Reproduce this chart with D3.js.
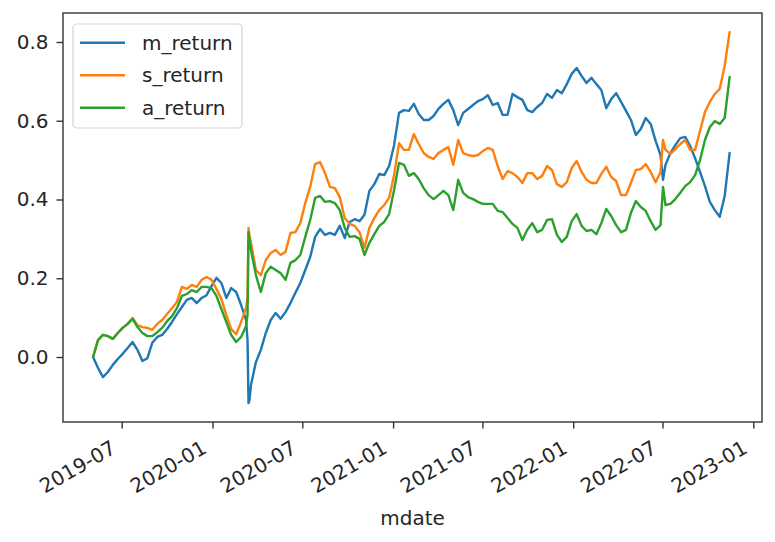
<!DOCTYPE html>
<html><head><meta charset="utf-8">
<script src="https://cdn.jsdelivr.net/npm/d3@7"></script>
<style>body{margin:0;background:#fff} text{font-family:"DejaVu Sans",sans-serif}</style>
</head><body><svg id="c" width="775" height="542"></svg>
<script>
const dates = ["2019-05-04","2019-05-14","2019-05-24","2019-06-03","2019-06-13","2019-06-23","2019-07-03","2019-07-13","2019-07-23","2019-08-02",
"2019-08-12","2019-08-22","2019-09-01","2019-09-11","2019-09-21","2019-10-01","2019-10-11","2019-10-21","2019-10-31","2019-11-10",
"2019-11-20","2019-11-30","2019-12-10","2019-12-20","2019-12-30","2020-01-09","2020-01-19","2020-01-29","2020-02-08","2020-02-18",
"2020-02-28","2020-03-09","2020-03-12","2020-03-14","2020-03-16",
"2020-03-19","2020-03-29","2020-04-08","2020-04-18","2020-04-28","2020-05-08","2020-05-18","2020-05-28","2020-06-07","2020-06-17",
"2020-06-27","2020-07-07","2020-07-17","2020-07-27","2020-08-06","2020-08-16","2020-08-26","2020-09-05","2020-09-15","2020-09-25",
"2020-10-05","2020-10-15","2020-10-25","2020-11-04","2020-11-14","2020-11-24","2020-12-04","2020-12-14","2020-12-24","2021-01-03",
"2021-01-13","2021-01-23","2021-02-02","2021-02-12","2021-02-22","2021-03-04","2021-03-14","2021-03-24","2021-04-03","2021-04-13",
"2021-04-23","2021-05-03","2021-05-13","2021-05-23","2021-06-02","2021-06-12","2021-06-22","2021-07-02","2021-07-12","2021-07-22",
"2021-08-01","2021-08-11","2021-08-21","2021-08-31","2021-09-10","2021-09-20","2021-09-30","2021-10-10","2021-10-20","2021-10-30",
"2021-11-09","2021-11-19","2021-11-29","2021-12-09","2021-12-19","2021-12-29","2022-01-08","2022-01-18","2022-01-28","2022-02-07",
"2022-02-17","2022-02-27","2022-03-09","2022-03-19","2022-03-29","2022-04-08","2022-04-18","2022-04-28","2022-05-08","2022-05-18",
"2022-05-28","2022-06-07","2022-06-17","2022-06-27","2022-07-02",
"2022-07-07","2022-07-17","2022-07-27","2022-08-06","2022-08-16","2022-08-26","2022-09-05","2022-09-15","2022-09-25","2022-10-05",
"2022-10-15","2022-10-25","2022-11-04","2022-11-14"];

const mReturn = [0.000,-0.028,-0.051,-0.038,-0.020,-0.005,0.008,0.023,0.038,0.018,
-0.010,-0.003,0.036,0.051,0.056,0.071,0.089,0.109,0.127,0.145,
0.150,0.137,0.150,0.157,0.180,0.201,0.188,0.150,0.175,0.165,
0.132,0.094,0.043,-0.117,-0.109,
-0.071,-0.013,0.018,0.061,0.094,0.112,0.097,0.114,0.137,0.163,
0.188,0.221,0.254,0.305,0.325,0.310,0.315,0.310,0.333,0.302,
0.343,0.350,0.345,0.361,0.422,0.439,0.465,0.462,0.485,0.538,
0.620,0.627,0.625,0.643,0.617,0.602,0.602,0.612,0.630,0.643,
0.653,0.627,0.589,0.620,0.630,0.640,0.650,0.655,0.665,0.640,
0.645,0.615,0.615,0.668,0.660,0.653,0.627,0.622,0.635,0.645,
0.668,0.658,0.678,0.670,0.693,0.719,0.734,0.714,0.696,0.709,
0.693,0.678,0.632,0.655,0.670,0.648,0.625,0.602,0.564,0.579,
0.607,0.592,0.549,0.513,0.450,
0.488,0.518,0.538,0.556,0.559,0.536,0.505,0.470,0.434,0.394,
0.373,0.356,0.409,0.518];

const sReturn = [0.000,0.043,0.056,0.053,0.046,0.061,0.074,0.084,0.099,0.081,
0.076,0.074,0.069,0.084,0.094,0.109,0.124,0.140,0.178,0.173,
0.183,0.178,0.196,0.203,0.196,0.173,0.147,0.107,0.071,0.058,
0.089,0.124,0.150,0.328,0.307,
0.290,0.221,0.208,0.246,0.264,0.272,0.259,0.267,0.315,0.317,
0.340,0.391,0.432,0.490,0.495,0.467,0.432,0.429,0.406,0.353,
0.338,0.333,0.317,0.277,0.328,0.353,0.373,0.386,0.404,0.462,
0.543,0.526,0.526,0.566,0.541,0.518,0.508,0.503,0.518,0.526,
0.533,0.488,0.551,0.518,0.513,0.510,0.513,0.523,0.531,0.526,
0.485,0.452,0.472,0.467,0.457,0.442,0.467,0.467,0.452,0.460,
0.485,0.475,0.439,0.432,0.444,0.480,0.498,0.470,0.450,0.442,
0.442,0.465,0.483,0.457,0.447,0.411,0.411,0.442,0.475,0.477,
0.490,0.470,0.444,0.470,0.551,
0.526,0.516,0.528,0.541,0.551,0.526,0.526,0.574,0.622,0.648,
0.668,0.681,0.739,0.825];

const aReturn = [0.000,0.043,0.056,0.053,0.046,0.061,0.074,0.084,0.097,0.076,
0.061,0.053,0.053,0.063,0.074,0.091,0.104,0.124,0.155,0.160,
0.170,0.165,0.178,0.178,0.175,0.155,0.122,0.089,0.056,0.038,
0.051,0.079,0.107,0.317,0.297,
0.272,0.208,0.165,0.213,0.229,0.221,0.213,0.196,0.239,0.246,
0.259,0.305,0.348,0.404,0.409,0.394,0.396,0.391,0.373,0.328,
0.305,0.307,0.300,0.259,0.290,0.312,0.333,0.343,0.363,0.424,
0.493,0.488,0.460,0.467,0.452,0.429,0.411,0.401,0.411,0.422,
0.411,0.373,0.450,0.417,0.406,0.401,0.394,0.389,0.389,0.389,
0.371,0.368,0.353,0.338,0.328,0.297,0.323,0.340,0.317,0.323,
0.348,0.350,0.310,0.292,0.305,0.345,0.363,0.333,0.320,0.323,
0.312,0.340,0.376,0.358,0.335,0.317,0.323,0.366,0.396,0.381,
0.371,0.345,0.323,0.335,0.432,
0.386,0.389,0.401,0.417,0.434,0.444,0.462,0.500,0.551,0.584,
0.599,0.592,0.607,0.711];

const seriesNames = ["m_return","s_return","a_return"];
const colors = ["#1f77b4","#ff7f0e","#2ca02c"];
const xTickLabels = ["2019-07","2020-01","2020-07","2021-01","2021-07","2022-01","2022-07","2023-01"];
const yTicks = [0.0,0.2,0.4,0.6,0.8];
const xLabel = "mdate";

const W = 775, H = 542, L = 63, R = 762, T = 13, B = 422;
const parse = d3.timeParse("%Y-%m-%d");
const parseM = d3.timeParse("%Y-%m");
const xTickDates = xTickLabels.map(parseM);

const x = d3.scaleTime()
  .domain([xTickDates[0], xTickDates[xTickDates.length - 1]])
  .range([121.7, 753.3]);
const y = d3.scaleLinear().domain([0, 0.8]).range([357, 42]);

const svg = d3.select("#c");
svg.append("rect").attr("width", W).attr("height", H).attr("fill", "#fff");

const parsedDates = dates.map(parse);
const line = d3.line().x((d, i) => x(parsedDates[i])).y(d => y(d));
[mReturn, sReturn, aReturn].forEach((s, i) => {
  svg.append("path").datum(s).attr("d", line)
    .attr("fill", "none").attr("stroke", colors[i])
    .attr("stroke-width", 2.4).attr("stroke-linejoin", "round").attr("stroke-linecap", "round");
});

svg.append("rect").attr("x", L).attr("y", T).attr("width", R - L).attr("height", B - T)
  .attr("fill", "none").attr("stroke", "#333").attr("stroke-width", 1.4);

const gy = svg.append("g").attr("transform", `translate(${L},0)`)
  .call(d3.axisLeft(y).tickValues(yTicks).tickFormat(d3.format(".1f")).tickSize(6.5).tickPadding(8));
gy.select(".domain").remove();
gy.selectAll(".tick line").attr("stroke", "#333").attr("stroke-width", 1.4);
gy.selectAll(".tick text").attr("font-size", 20).attr("fill", "#262626").attr("font-family", "DejaVu Sans");

const gx = svg.append("g").attr("transform", `translate(0,${B})`)
  .call(d3.axisBottom(x).tickValues(xTickDates).tickFormat(d3.timeFormat("%Y-%m")).tickSize(6.5));
gx.select(".domain").remove();
gx.selectAll(".tick line").attr("stroke", "#333").attr("stroke-width", 1.4);
gx.selectAll(".tick text")
  .attr("font-size", 20).attr("fill", "#262626").attr("font-family", "DejaVu Sans")
  .attr("y", 0).attr("dy", 0).attr("text-anchor", "end")
  .attr("transform", "translate(-5,30) rotate(-30)");

svg.append("text").attr("x", (L + R) / 2).attr("y", 525).attr("text-anchor", "middle")
  .attr("font-size", 20).attr("fill", "#262626").text(xLabel);

const lg = svg.append("g");
lg.append("rect").attr("x", 73).attr("y", 24).attr("width", 169).attr("height", 104).attr("rx", 4)
  .attr("fill", "#fff").attr("fill-opacity", 0.8).attr("stroke", "#d5d5d5").attr("stroke-width", 1.2);
seriesNames.forEach((n, i) => {
  const yy = 42.7 + i * 32.5;
  lg.append("line").attr("x1", 80).attr("x2", 125).attr("y1", yy).attr("y2", yy)
    .attr("stroke", colors[i]).attr("stroke-width", 2.4);
  lg.append("text").attr("x", 142).attr("y", yy).attr("dy", "0.35em")
    .attr("font-size", 20).attr("fill", "#262626").text(n);
});
</script></body></html>
